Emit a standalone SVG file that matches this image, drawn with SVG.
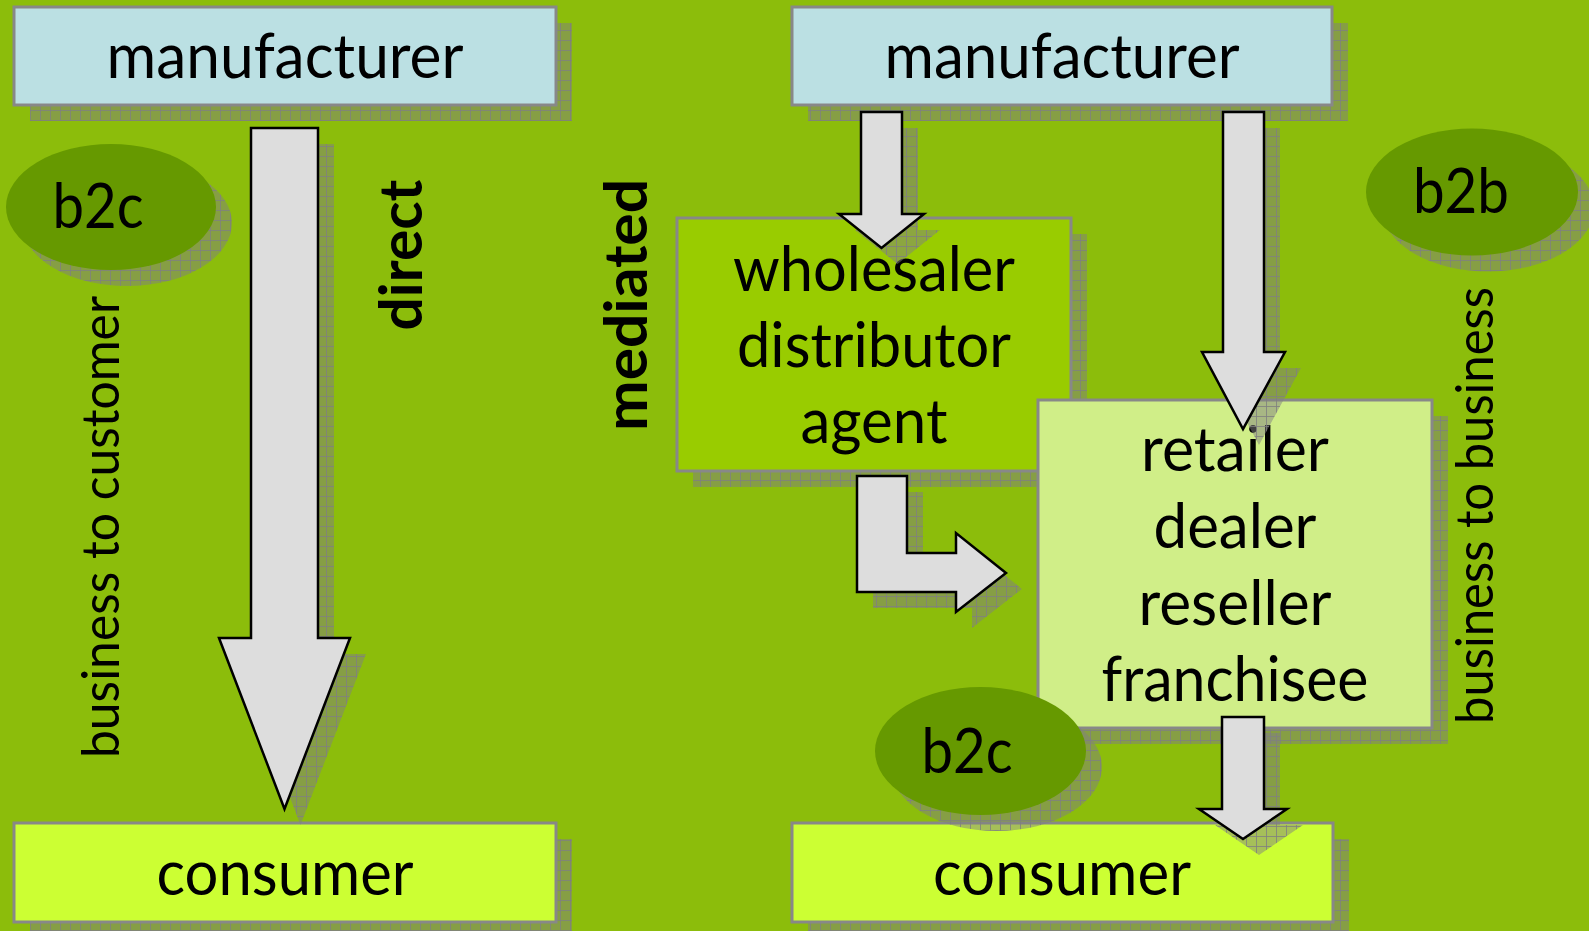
<svg xmlns="http://www.w3.org/2000/svg" width="1589" height="931" viewBox="0 0 1589 931">
<defs>
<pattern id="sh" width="10" height="10" patternUnits="userSpaceOnUse">
<rect width="10" height="10" fill="#808080" fill-opacity="0.5"/>
<path d="M0 0.5H10M0.5 0V10" stroke="#808080" stroke-width="1" stroke-opacity="0.8"/>
</pattern>
</defs>
<style>
.box{stroke:#888888;stroke-width:3}
.shadow{fill:url(#sh)}
.arrow{fill:#DDDDDD;stroke:#000;stroke-width:2.5;stroke-linejoin:miter}
.ell{fill:#669900}
.t{font-family:Lato,"Liberation Sans",sans-serif;font-size:62px;fill:#000;text-anchor:middle}
.tb{font-family:Lato,"Liberation Sans",sans-serif;font-size:60px;font-weight:bold;fill:#000;text-anchor:middle}
.tr{font-family:Lato,"Liberation Sans",sans-serif;font-size:53px;fill:#000;text-anchor:middle}
</style>
<rect width="1589" height="931" fill="#8CBD0B"/>

<g id="manufacturer-left">
<rect class="shadow" x="30" y="23" width="542" height="98"/>
<rect class="box" x="14" y="7" width="542" height="98" fill="#BBE0E3"/>
<text class="t" x="285" y="78" textLength="357" lengthAdjust="spacingAndGlyphs">manufacturer</text>
</g>
<g id="consumer-left">
<rect class="shadow" x="30" y="839" width="542" height="99"/>
<rect class="box" x="14" y="823" width="542" height="99" fill="#CCFF33"/>
<text class="t" x="285" y="895" textLength="257" lengthAdjust="spacingAndGlyphs">consumer</text>
</g>
<g id="manufacturer-right">
<rect class="shadow" x="808" y="23" width="540" height="98"/>
<rect class="box" x="792" y="7" width="540" height="98" fill="#BBE0E3"/>
<text class="t" x="1062" y="78" textLength="355" lengthAdjust="spacingAndGlyphs">manufacturer</text>
</g>
<g id="wholesaler">
<rect class="shadow" x="693" y="234" width="394" height="253"/>
<rect class="box" x="677" y="218" width="394" height="253" fill="#99CC00"/>
<text class="t" x="874" y="291" textLength="282" lengthAdjust="spacingAndGlyphs">wholesaler</text>
<text class="t" x="874" y="367" textLength="274" lengthAdjust="spacingAndGlyphs">distributor</text>
<text class="t" x="874" y="443" textLength="147" lengthAdjust="spacingAndGlyphs">agent</text>
</g>
<g id="retailer">
<rect class="shadow" x="1054" y="416" width="394" height="328"/>
<rect class="box" x="1038" y="400" width="394" height="328" fill="#D0EE88"/>
<text class="t" x="1235" y="471" textLength="188" lengthAdjust="spacingAndGlyphs">retailer</text>
<text class="t" x="1235" y="548" textLength="163" lengthAdjust="spacingAndGlyphs">dealer</text>
<text class="t" x="1235" y="625" textLength="193" lengthAdjust="spacingAndGlyphs">reseller</text>
<text class="t" x="1235" y="701" textLength="267" lengthAdjust="spacingAndGlyphs">franchisee</text>
</g>
<g id="consumer-right">
<rect class="shadow" x="808" y="839" width="541" height="99"/>
<rect class="box" x="792" y="823" width="541" height="99" fill="#CCFF33"/>
<text class="t" x="1062" y="895" textLength="258" lengthAdjust="spacingAndGlyphs">consumer</text>
</g>

<g id="connectors">
<g transform="translate(16,16)">
<polygon class="shadow" points="251,128 318,128 318,638 350,638 284.5,809 219,638 251,638"/>
<polygon class="shadow" points="861,112 902,112 902,214 924,214 881.5,248 839,214 861,214"/>
<polygon class="shadow" points="1223,112 1264,112 1264,352 1285,352 1243,429 1202,352 1223,352"/>
<polygon class="shadow" points="857,476 907,476 907,553 956,553 956,533 1006,573 956,612 956,592 857,592"/>
<polygon class="shadow" points="1222,717 1264,717 1264,809 1287,809 1243,839 1199,809 1222,809"/>
</g>
<polygon class="arrow" points="251,128 318,128 318,638 350,638 284.5,809 219,638 251,638"/>
<polygon class="arrow" points="861,112 902,112 902,214 924,214 881.5,248 839,214 861,214"/>
<polygon class="arrow" points="1223,112 1264,112 1264,352 1285,352 1243,429 1202,352 1223,352"/>
<polygon class="arrow" points="857,476 907,476 907,553 956,553 956,533 1006,573 956,612 956,592 857,592"/>
<polygon class="arrow" points="1222,717 1264,717 1264,809 1287,809 1243,839 1199,809 1222,809"/>
</g>

<g id="b2c-left">
<ellipse class="shadow" cx="127" cy="223" rx="105" ry="63"/>
<ellipse class="ell" cx="111" cy="207" rx="105" ry="63"/>
<text class="t" x="98" y="228" font-size="60" textLength="91" lengthAdjust="spacingAndGlyphs">b2c</text>
</g>
<g id="b2b">
<ellipse class="shadow" cx="1488" cy="208" rx="106" ry="63.5"/>
<ellipse class="ell" cx="1472" cy="192" rx="106" ry="63.5"/>
<text class="t" x="1461" y="213" font-size="60" textLength="96" lengthAdjust="spacingAndGlyphs">b2b</text>
</g>
<g id="b2c-mid">
<ellipse class="shadow" cx="996.5" cy="767" rx="105.5" ry="64"/>
<ellipse class="ell" cx="980.5" cy="751" rx="105.5" ry="64"/>
<text class="t" x="967" y="773" font-size="60" textLength="91" lengthAdjust="spacingAndGlyphs">b2c</text>
</g>

<g id="labels">
<text class="tr" transform="translate(119,527) rotate(-90)" textLength="462" lengthAdjust="spacingAndGlyphs">business to customer</text>
<text class="tb" transform="translate(422,255) rotate(-90)" textLength="151" lengthAdjust="spacingAndGlyphs">direct</text>
<text class="tb" transform="translate(647,305) rotate(-90)" textLength="252" lengthAdjust="spacingAndGlyphs">mediated</text>
<text class="tr" transform="translate(1493,505.5) rotate(-90)" textLength="437" lengthAdjust="spacingAndGlyphs">business to business</text>
</g>
</svg>
